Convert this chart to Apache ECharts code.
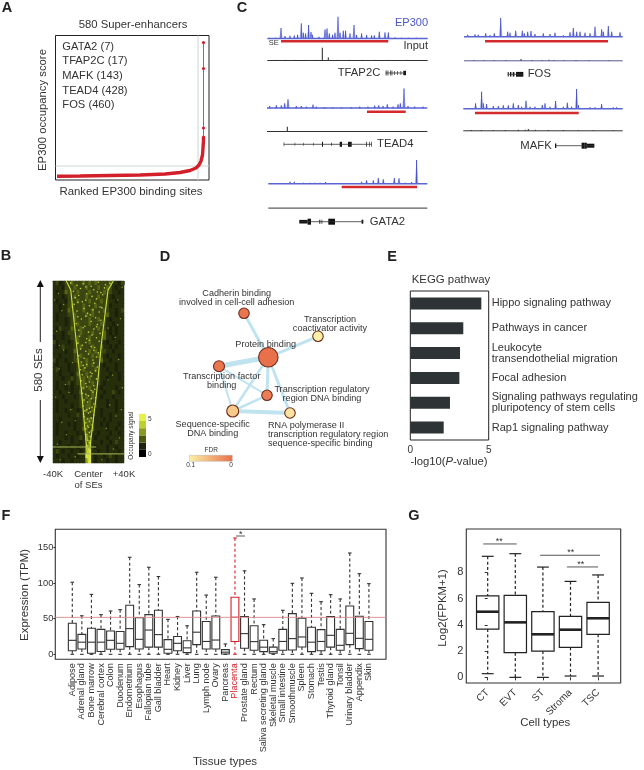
<!DOCTYPE html>
<html><head><meta charset="utf-8">
<style>html,body{margin:0;padding:0;background:#fff}#c{width:644px;height:770px}</style>
<script src="https://cdn.jsdelivr.net/npm/echarts@6/dist/echarts.min.js"></script>
</head><body><div id="c"></div>
<script>
// ---------- Panel A ----------
const rankCurve=[[123,0.7],[2009,1],[4469,1.5],[6929,2],[8979,3],[10209,4.5],[11029,6.5],[11521,9],[11767,12],[11931,16],[12054,22],[12095,29],[12136,37],[12136,40]];
const rankTop=[[12136,40],[12136,49],[12136,108.5],[12136,134.5]];
const superCut=11685, scoreCut=11;
const factorList=['GATA2 (7)','TFAP2C (17)','MAFK (143)','TEAD4 (428)','FOS (460)'];
// ---------- Panel B ----------
const heatRows=[
"1201 2232223232322223 1102","1110 2223222322232232 1011","1011 3222322232222322 1101",
"11101 22322232223222 10111","10110 22232223222322 11011","11011 23222322232222 01111",
"11011 32222322322232 11012","10111 22322232322223 11011","101101 232222322322 101111",
"111101 223222322232 110111","102111 322322222322 101011","111012 222322232223 101011",
"011011 223222322223 110111","2011101 2322232222 1011101","1012111 2232223223 1101011",
"1111011 3222232322 2110111","1101111 2232223232 1011101","2011011 2322322223 1101111",
"10111011 23232322 10111011","12011011 22322232 11011011","11011101 32232222 11101101",
"11101121 22323222 11011101","10111201 22322322 10111111","101101011 232322 101111011",
"110111011 322232 110112101","111011101 223232 101110111","101101111 232322 111011011",
"101111011 223322 111011011","1011011101 2323 1101111011","1111101121 3222 1101101111",
"1101111011 2333 1110101111","1011101011 2332 1101011101","1011111011 3323 1111011011",
"10110111011 33 11011101101","11110101121 43 10111011111","11011101101 34 11101101211",
"10111011011 44 10111011011","12101101101 45 11011011101","10111011011 55 10110121011","11101101111 45 10111011011"
].map(r=>r.replace(/ /g,''));
const edgeRanks=[0,29,188,347,506,580];
const edgeLeft=[-25,-20,-14,-8,-3,0];
const edgeRight=[28,22,15,9.5,2.7,0];
const streakA=[[-40,529],[8.7,529]];
const streakB=[[-12.4,551],[40,551]];
const brightSpecks=[[6,-20],[14,-13],[9,-6],[17,3],[4,11],[12,19],[7,24],[33,-17],[24,-9],[41,-2],[28,6],[37,14],[22,18],[53,-15],[46,-11],[61,-3],[49,4],[57,9],[44,16],[74,-16],[66,-7],[79,1],[71,7],[83,13],[96,-13],[88,-5],[103,-1],[92,5],[99,12],[85,15],[114,-12],[121,-8],[108,2],[117,8],[125,14],[136,-14],[144,-4],[129,3],[139,10],[157,-11],[149,-6],[163,0],[153,6],[167,13],[176,-10],[184,-2],[172,4],[181,9],[192,12],[198,-12],[205,-7],[189,1],[212,7],[217,-9],[224,-3],[209,3],[229,11],[238,-11],[246,-5],[233,0],[252,5],[242,9],[258,-8],[266,-2],[261,6],[274,10],[283,-9],[277,-4],[291,2],[286,8],[299,-7],[306,-1],[295,4],[312,9],[318,-8],[327,-3],[322,1],[334,6],[341,-6],[337,-2],[349,3],[345,7],[358,-7],[366,0],[354,5],[372,8],[379,-5],[386,-1],[375,3],[392,6],[398,-6],[406,1],[402,4],[414,-4],[421,0],[417,2],[427,6],[433,-5],[440,-1],[437,3],[452,-3],[447,1],[459,4],[471,-3],[466,0],[478,3],[489,-2],[483,1],[496,2],[508,-1],[515,1],[527,-1],[535,0],[541,1],[19,-3],[35,10],[68,-12],[112,-3],[146,9],[196,-3],[221,6],[269,-6],[303,3],[361,-3],[410,-2],[462,-1]];
const dimSpecks=[[40,-34],[95,-30],[60,33],[120,36],[160,-36],[180,30],[220,-28],[250,34],[280,-33],[300,27],[330,-26],[340,38],[370,-37],[395,24],[410,-20],[430,31],[450,-30],[470,20],[490,-25],[500,35],[520,-35],[535,28],[560,-15],[570,15],[570,-32],[410,37],[260,-18],[150,22],[60,-38],[20,38],[75,-28],[205,-33],[140,33],[355,-22],[315,22],[445,-15]];
// ---------- Panel C ----------
const ep_TFAP2C=[[2,0.8],[8,1],[13.7,10.7],[17.7,2.7],[22.7,3],[27,3.3],[30.3,4],[34,15.3],[36,6],[38.3,5.3],[41.3,13.7],[43.7,6.7],[45,4],[51.7,2],[57.7,9.3],[59.7,10.3],[62,5.3],[65.3,4],[67.7,6],[70.7,22],[72.7,6],[76,8],[78.3,8],[82.7,5.3],[86.7,13.7],[89.3,3.7],[94.3,5.3],[99.3,3.7],[104.3,3.3],[107,3.3],[112,7],[117.7,6.3],[121,6.3],[127.7,1.3],[134.3,1],[141,1],[149,1]];
const in_TFAP2C=[[55,13],[61,3.3],[8,0.8],[18,0.8],[28,0.8],[38,0.8],[48,0.8],[70,0.8],[82,0.8],[95,0.8],[108,0.8],[120,0.8],[140,0.8]];
const ep_FOS=[[3.7,2.3],[11,2.7],[14.3,2.3],[21.7,3.7],[26,2],[30.3,3.7],[36.7,19],[43.7,5.3],[46,4.3],[51.7,6.3],[58.3,6.3],[60.3,3.7],[63.7,5.3],[67,6],[71,3],[79.3,3.7],[86,3],[91,4.3],[99.3,1.7],[106,4.7],[109.3,9],[112.7,5.3],[116,5.3],[121,4.3],[126,3.7],[131,10.3],[137.7,7.7],[139.3,5.3],[144.3,11],[147.7,5.3],[156,4.7]];
const in_FOS=[[10,0.8],[20,0.8],[30,0.8],[42,0.8],[57,2],[68,1],[78,1],[85,1.2],[90,1],[100,0.8],[112,1],[125,0.8],[145,0.8]];
const ep_TEAD4=[[2.7,2.3],[9.3,3],[14.3,3],[17.7,5],[21,9],[29.3,2.3],[34.3,2.3],[39.3,1.7],[46,3.7],[49.3,1.7],[57.7,1.3],[66,1],[74.3,1],[84.3,1.3],[92.7,1.7],[101,1.7],[107.7,2.7],[111.7,3],[116,2.3],[120.3,4],[126,1.7],[131,4],[133.3,5],[137,20],[141,2.3],[147.7,1.7],[156,1.7]];
const in_TEAD4=[[20.3,5],[10,0.6],[35,0.6],[50,0.6],[70,0.6],[90,0.6],[110,0.6],[130,0.6],[150,0.6]];
const ep_MAFK=[[12.3,5.7],[18.3,17.3],[20,5.7],[23.3,5],[30,3],[35,3],[40,3.7],[45,3.7],[50,5.7],[55,4],[58.3,2.3],[62.7,8.3],[66.7,2.3],[71.7,2.3],[79,4],[81.7,5.7],[86.7,2.3],[92.3,8],[100,2.3],[104,6.3],[108.3,2.3],[113.3,20],[115,4],[126.7,1.7],[131.7,1.7],[138.3,5],[150,1.7],[153.3,1.7]];
const in_MAFK=[[8,1],[18,1],[30,1],[42,1],[55,1.2],[62,1.2],[65,2],[72,1.2],[85,1],[100,1],[115,0.8],[130,0.8],[150,0.8]];
const ep_GATA2=[[5,1],[13.3,1],[21.7,2.3],[26,2.3],[35,1.3],[41.7,1.3],[46.7,1.3],[51.7,1.3],[57.3,2],[66.7,1],[74,1],[81.7,1],[93.3,2.3],[98.3,3.7],[105,3.7],[110,6],[115,4.7],[126,6],[130.7,5.7],[136.7,1.3],[143.3,2],[148.3,24]];
const in_GATA2=[];
const se_TFAP2C=[13.7,121],se_FOS=[21,144],se_TEAD4=[100,138.7],se_MAFK=[11.7,115.4],se_GATA2=[73.4,148.7];
const exons_TFAP2C=[[118.4,119.2,2.5],[120.3,121,2.5],[122.7,123.3,2.5],[124.3,125,2.5],[127,127.6,2],[129.7,130.3,2],[133.3,133.9,2],[136,138.7,2.2]];
const exons_FOS=[[43.7,44.7,2.2],[46,47.4,2.2],[48.7,50.4,2.2],[52,59.3,2.4]];
const exons_TEAD4=[[16.7,17.2,2],[27.7,28.2,1.5],[36,36.5,1.5],[46,46.5,1.5],[55,56,2.5],[64.3,65,1.5],[72.7,75,2.5],[81,84,2.5],[84.3,85,2.5],[99.3,100,2.5],[102,102.6,2.5],[104.4,105,2.5]];
const exons_MAFK=[[91.7,93,2.2],[118.3,121,3],[121,123.5,3],[123.5,131,2]];
const exons_GATA2=[[31,39.3,1.8],[39.3,42.7,3],[51,52,2],[53.3,54,2],[60,66.7,3],[93.3,95,2]];
// ---------- Panel D ----------
const goTerms=['Protein binding','Cadherin binding','Transcription coactivator activity','Transcription factor binding','Transcription regulatory region DNA binding','Sequence-specific DNA binding','RNA polymerase II binding'];
const goPos=[[108.3,87.3],[84,43.3],[158,66.3],[59,96.3],[107,125.3],[72.7,141],[130,143]];
const goSize=[19.5,10.5,10.5,11,10.5,12,10.5];
const goFDR=[0,0.005,0.1,0.005,0.01,0.07,0.09];
const goEdges=[[0,1,3],[0,2,3],[0,3,5],[0,4,3],[0,5,2.5],[0,6,3],[3,4,2],[3,5,2],[5,4,2.5],[5,6,4]];
// ---------- Panel E ----------
const keggTerms=['Hippo signaling pathway','Pathways in cancer','Leukocyte\ntransendothelial migration','Focal adhesion','Signaling pathways regulating\npluripotency of stem cells','Rap1 signaling pathway'];
const keggValues=[4.53,3.38,3.17,3.13,2.53,2.13];
// ---------- Panel F ----------
const tissues=['Adipose','Adrenal gland','Bone marrow','Cerebral cortex','Colon','Duodenum','Endometrium','Esophagus','Fallopian tube','Gall bladder','Heart','Kidney','Liver','Lung','Lymph node','Ovary','Pancreas','Placenta','Prostate gland','Rectum','Saliva secreting gland','Skeletal muscle','Small intestine','Smoothmuscle','Spleen','Stomach','Testis','Thyroid gland','Tonsil','Urinary bladder','Appendix','Skin'];
const tissueHigh=[101,54,84,55.6,60.7,62.6,136,97.7,122,109,49,53,40,115,83,108,14.5,163,117,77.6,41.6,22,61.7,99.5,107,85.5,73.8,83.6,77.6,142,113,99];
const tissueQ3=[43.5,28,36.5,35,32.7,32,68.7,51.4,55.6,61.7,20.6,25,19,60.7,46,53.7,6.5,80,53,40,19.6,10,35,57,50.5,38,34.6,52.8,35,67.8,53.3,46];
const tissueMed=[19.6,17,17,17,19.6,15.4,36,21,34,27.6,7,15.4,9,31,18,20,3,52,29,17.8,10,3.7,18,22,24.3,17,18,26.6,12.6,29.4,22.4,21];
const tissueQ1=[5,7.5,1.4,4,7,7,10.7,7.5,10,10,1.4,5,2.3,13.5,7.5,7.5,0.5,18,8.4,5.6,3.7,1.4,5.6,6,10.3,3.7,5,10,5.6,13.5,8,5.6];
const tissueLow=tissues.map(()=>0);
const tpmRef=51.8;
// ---------- Panel G ----------
const cellTypes=['CT','EVT','ST','Stroma','TSC'];
const cellHigh=[9.22,9.42,8.4,7.31,7.8];
const cellQ3=[6.2,6.25,5,4.65,5.71];
const cellMed=[5,4.19,3.28,3.63,4.5];
const cellQ1=[3.68,1.88,2,2.29,3.28];
const cellLow=[0.28,0,0,0.1,0.1];
const sigBrackets=[[[-0.16,10.16],[1.05,10.16]],[[1.9,9.3],[4.07,9.3]],[[2.87,8.41],[4,8.41]]];

// ---------- helpers ----------
const FONT='"Liberation Sans",Arial,sans-serif', INK='#333';
const grid=[],xAxis=[],yAxis=[],series=[],graphic=[];
function addGrid(left,top,width,height,xa,ya,extra){
  const i=grid.length;
  grid.push(Object.assign({left,top,width,height,outerBoundsMode:'none',show:false},extra||{}));
  xAxis.push(Object.assign({gridIndex:i,show:false,type:'value'},xa));
  yAxis.push(Object.assign({gridIndex:i,show:false,type:'value'},ya));
  return i;
}
function txt(x,y,text,size,o){
  o=o||{};
  graphic.push({type:'text',x,y,rotation:o.rot||0,z:30,silent:true,style:{text,fontSize:size,fontFamily:FONT,fontWeight:o.bold?'bold':'normal',fill:o.color||INK,align:o.align||'center',verticalAlign:'middle',lineHeight:o.lh,rich:o.rich}});
}
const R90=Math.PI/2;
// ---------- A ----------
(function(){
  const g=addGrid(55.5,35.5,153.5,144.5,{min:0,max:12587},{min:-3,max:141.5},{show:true,borderColor:'#222',borderWidth:1});
  const red='#d21f2a';
  series.push({type:'line',xAxisIndex:g,yAxisIndex:g,symbol:'none',silent:true,data:[[superCut,-3],[superCut,141.5]],lineStyle:{color:'#c8d6d4',width:1}});
  series.push({type:'line',xAxisIndex:g,yAxisIndex:g,symbol:'none',silent:true,data:[[0,scoreCut],[12587,scoreCut]],lineStyle:{color:'#c8d6d4',width:1}});
  series.push({type:'line',xAxisIndex:g,yAxisIndex:g,symbol:'none',smooth:false,data:rankCurve,lineStyle:{color:red,width:3.4}});
  series.push({type:'line',xAxisIndex:g,yAxisIndex:g,symbol:'circle',symbolSize:3.2,data:rankTop,lineStyle:{color:red,width:0.8},itemStyle:{color:red}});
  txt(133,25,'580 Super-enhancers',11.3);
  factorList.forEach((t,i)=>txt(62.3,46.7+i*14.65,t,11.2,{align:'left'}));
  txt(43.3,110,'EP300 occupancy score',11.3,{rot:R90});
  txt(131,191.7,'Ranked EP300 binding sites',11.4);
})();
// ---------- B ----------
const heatColors=['#1b2009','#272e0c','#3c4611','#566416','#8fa226','#dde948'];
const keyColors=['#000000','#1e220c','#4c5810','#8a9a20','#bcd030','#e8f04a'];
(function(){
  const l=53,t=281,w=71,h=182;
  const cols=[...Array(24).keys()].map(String), rows=heatRows.map((_,i)=>String(i));
  const g=addGrid(l,t,w,h,{type:'category',data:cols},{type:'category',data:rows,inverse:true},{show:true,backgroundColor:'#272e0c',borderWidth:0});
  const data=[];
  heatRows.forEach((r,y)=>[...r].forEach((c,x)=>data.push([x,y,+c])));
  series.push({type:'heatmap',xAxisIndex:g,yAxisIndex:g,data,silent:true,itemStyle:{borderWidth:0}});
  const v=addGrid(l,t,w,h,{show:true,min:-40,max:40,interval:40,position:'bottom',offset:2,
      axisLine:{show:true,lineStyle:{color:'#666',width:1}},axisTick:{show:true,length:4,lineStyle:{color:'#666'}},splitLine:{show:false},
      axisLabel:{show:true,fontSize:9.5,fontFamily:FONT,color:INK,margin:4,lineHeight:11,showMinLabel:true,showMaxLabel:true,hideOverlap:false,formatter:x=>x<0?'-40K':x>0?'+40K':'Center\nof SEs'}},
    {min:0,max:580,inverse:true});
  series.push({type:'scatter',xAxisIndex:v,yAxisIndex:v,silent:true,symbolSize:1.6,data:brightSpecks.map(p=>[p[1],p[0]]),itemStyle:{color:'#dce84a',opacity:0.85}});
  series.push({type:'scatter',xAxisIndex:v,yAxisIndex:v,silent:true,symbolSize:1.4,data:dimSpecks.map(p=>[p[1],p[0]]),itemStyle:{color:'#a8b838',opacity:0.8}});
  const edge='#cfe03c';
  series.push({type:'line',xAxisIndex:v,yAxisIndex:v,symbol:'none',silent:true,data:edgeLeft.map((k,i)=>[k,edgeRanks[i]]),lineStyle:{color:edge,width:1.1}});
  series.push({type:'line',xAxisIndex:v,yAxisIndex:v,symbol:'none',silent:true,data:edgeRight.map((k,i)=>[k,edgeRanks[i]]),lineStyle:{color:edge,width:1.1}});
  series.push({type:'line',xAxisIndex:v,yAxisIndex:v,symbol:'none',silent:true,data:streakA,lineStyle:{color:'#a9b856',width:1}});
  series.push({type:'line',xAxisIndex:v,yAxisIndex:v,symbol:'none',silent:true,data:streakB,lineStyle:{color:'#a9b856',width:1}});
  const ax=40.3;
  graphic.push({type:'line',silent:true,shape:{x1:ax,y1:282,x2:ax,y2:342},style:{stroke:'#222',lineWidth:1}});
  graphic.push({type:'line',silent:true,shape:{x1:ax,y1:400,x2:ax,y2:461},style:{stroke:'#222',lineWidth:1}});
  graphic.push({type:'polygon',silent:true,shape:{points:[[ax,280],[ax-3.5,287],[ax+3.5,287]]},style:{fill:'#111'}});
  graphic.push({type:'polygon',silent:true,shape:{points:[[ax,463],[ax-3.5,456],[ax+3.5,456]]},style:{fill:'#111'}});
  txt(39.3,370,'580 SEs',11.5,{rot:R90});
  const keyH=7.2;
  keyColors.forEach((c,i)=>graphic.push({type:'rect',silent:true,shape:{x:139,y:457-keyH*(i+1),width:7,height:keyH},style:{fill:c}}));
  txt(148,419,'5',6.5,{align:'left'}); txt(148,454,'0',6.5,{align:'left'});
  txt(131,435.7,'Occupany signal',6.5,{rot:R90});
})();
// ---------- C ----------
const blocks=[
 {name:'TFAP2C',ep:ep_TFAP2C,inp:in_TFAP2C,se:se_TFAP2C,ex:exons_TFAP2C,l:267.3,w:160.4,epY:38.7,seO:2.6,inY:60.7,gY:73,lab:[359,'center']},
 {name:'FOS',ep:ep_FOS,inp:in_FOS,se:se_FOS,ex:exons_FOS,l:464,w:158.7,epY:37,seO:4.3,inY:61,gY:74.3,lab:[527.7,'left']},
 {name:'TEAD4',ep:ep_TEAD4,inp:in_TEAD4,se:se_TEAD4,ex:exons_TEAD4,l:267,w:160.4,epY:108.3,seO:3.4,inY:131.7,gY:144.3,lab:[377,'left']},
 {name:'MAFK',ep:ep_MAFK,inp:in_MAFK,se:se_MAFK,ex:exons_MAFK,l:463.3,w:159.4,epY:109,seO:4,inY:131,gY:145.7,lab:[551.7,'right']},
 {name:'GATA2',ep:ep_GATA2,inp:in_GATA2,se:se_GATA2,ex:exons_GATA2,l:268.3,w:159,epY:184,seO:3,inY:208.3,gY:221.7,lab:[369.7,'left']}
];
function peakSeries(g,data,core,halo){
  series.push({type:'custom',xAxisIndex:g,yAxisIndex:g,silent:true,clip:false,data,encode:{x:0,y:1},
    renderItem:(p,api)=>{
      const t=api.coord([api.value(0),api.value(1)]),b=api.coord([api.value(0),0]);
      return {type:'group',children:[
        {type:'polygon',shape:{points:[[t[0]-1.8,b[1]],[t[0],t[1]],[t[0]+1.8,b[1]]]},style:{fill:halo}},
        {type:'line',shape:{x1:t[0],y1:t[1],x2:b[0],y2:b[1]},style:{stroke:core,lineWidth:1}}
      ]};
    }});
}
blocks.forEach(b=>{
  const g1=addGrid(b.l,b.epY-26,b.w,33,{min:0,max:b.w},{min:-7,max:26});
  peakSeries(g1,b.ep,'#3f4cc6','#aab0ea');
  series.push({type:'line',xAxisIndex:g1,yAxisIndex:g1,symbol:'none',silent:true,data:[[0,0.3],[b.w,0.3]],lineStyle:{color:'#5a65d4',width:1.5}});
  series.push({type:'custom',xAxisIndex:g1,yAxisIndex:g1,silent:true,clip:false,data:[[b.se[0],b.se[1],-b.seO]],encode:{x:[0,1],y:2},
    renderItem:(p,api)=>{const a=api.coord([api.value(0),api.value(2)]),e=api.coord([api.value(1),api.value(2)]);
      return {type:'rect',shape:{x:a[0],y:a[1]-1.2,width:e[0]-a[0],height:2.4},style:{fill:'#d42a2e'}};}});
  const g2=addGrid(b.l,b.inY-15,b.w,17,{min:0,max:b.w},{min:-2,max:15});
  if(b.inp.length) peakSeries(g2,b.inp,'#222','rgba(90,90,90,0)');
  series.push({type:'line',xAxisIndex:g2,yAxisIndex:g2,symbol:'none',silent:true,data:[[0,0.2],[b.w,0.2]],lineStyle:{color:b.name==='FOS'?'#555a90':'#333',width:1}});
  const g3=addGrid(b.l,b.gY-5,b.w,10,{min:0,max:b.w},{min:-5,max:5});
  const first=b.ex[0][0], last=b.ex[b.ex.length-1][1];
  series.push({type:'line',xAxisIndex:g3,yAxisIndex:g3,symbol:'none',silent:true,data:[[first,0],[last,0]],lineStyle:{color:'#333',width:0.8}});
  series.push({type:'custom',xAxisIndex:g3,yAxisIndex:g3,silent:true,clip:false,data:b.ex,encode:{x:[0,1],y:2},
    renderItem:(p,api)=>{const a=api.coord([api.value(0),api.value(2)]),e=api.coord([api.value(1),-api.value(2)]);
      return {type:'rect',shape:{x:a[0],y:a[1],width:e[0]-a[0],height:e[1]-a[1]},style:{fill:'#111'}};}});
  txt(b.lab[0],b.gY,b.name,11.3,{align:b.lab[1]});
});
txt(428,23,'EP300',11,{align:'right',color:'#4a55c8'});
txt(268.7,43,'SE',7.5,{align:'left'});
txt(428,45.7,'Input',11,{align:'right'});
// ---------- D ----------
(function(){
  const g=addGrid(160,270,240,220,{min:0,max:240},{min:0,max:220,inverse:true});
  const lo=[232,112,74], hi=[253,241,168];
  const col=f=>{const t=f/0.1;return 'rgb('+lo.map((c,i)=>Math.round(c+(hi[i]-c)*t)).join(',')+')';};
  series.push({type:'graph',coordinateSystem:'cartesian2d',xAxisIndex:g,yAxisIndex:g,layout:'none',silent:true,z:5,
    data:goTerms.map((n,i)=>({name:n,value:goPos[i],symbolSize:goSize[i],itemStyle:{color:col(goFDR[i]),borderColor:'#6e2a1c',borderWidth:1.1}})),
    links:goEdges.map(e=>({source:e[0],target:e[1],lineStyle:{width:e[2],color:'#bfe4ef',opacity:1}})),label:{show:false}});
  const s=9.1,lh=8.9;
  txt(236.7,298,'Cadherin binding\ninvolved in cell-cell adhesion',s,{lh});
  txt(330,323.7,'Transcription\ncoactivator activity',s,{lh});
  txt(265.7,344,'Protein binding',s);
  txt(221.7,381,'Transcription factor\nbinding',s,{lh});
  txt(322,394.3,'Transcription regulatory\nregion DNA binding',s,{lh});
  txt(212.7,429,'Sequence-specific\nDNA binding',s,{lh});
  txt(268,434.3,'RNA polymerase II\ntranscription regulatory region\nsequence-specific binding',s,{lh:9.3,align:'left'});
  graphic.push({type:'rect',silent:true,shape:{x:189.3,y:455.3,width:43,height:6},style:{stroke:'#aaa',lineWidth:0.4,fill:new echarts.graphic.LinearGradient(0,0,1,0,[{offset:0,color:'#fdf1a8'},{offset:1,color:'#e8704a'}])}});
  txt(211.3,450,'FDR',6.5); txt(190.7,465.5,'0.1',6.5); txt(231,465.5,'0',6.5);
})();
// ---------- E ----------
(function(){
  const g=addGrid(410.3,291,78.4,149,
    {show:true,min:0,max:5,interval:5,axisLine:{show:false},axisTick:{show:false},splitLine:{show:false},axisLabel:{show:true,fontSize:10,fontFamily:FONT,color:INK,margin:5}},
    {show:true,type:'category',data:keggTerms,inverse:true,position:'right',axisLine:{show:false},axisTick:{show:false},axisLabel:{show:true,interval:0,fontSize:11,fontFamily:FONT,color:INK,margin:3,lineHeight:10.8,align:'left'}},
    {show:true,borderColor:'#222',borderWidth:1});
  series.push({type:'bar',xAxisIndex:g,yAxisIndex:g,barWidth:12,silent:true,data:keggValues,itemStyle:{color:'#2e3436'}});
  txt(451,280,'KEGG pathway',11.4);
  txt(449,462,'{a|-log10(}{i|P}{a|-value)}',11.3,{rich:{a:{fontSize:11.3,fontFamily:FONT,fill:INK},i:{fontSize:11.3,fontFamily:FONT,fontStyle:'italic',fill:INK}}});
})();
// ---------- box series ----------
function boxSeries(g,rows,o){
  series.push({type:'custom',xAxisIndex:g,yAxisIndex:g,silent:true,z:4,data:rows,encode:{x:0,y:[1,2,3,4,5]},
    renderItem:(p,api)=>{
      const i=api.value(0),x=api.coord([i,0])[0],band=api.size([1,0])[0],bw=band*o.box,cw=band*o.cap;
      const y=k=>api.coord([i,api.value(k)])[1];
      const c=o.color(i),ln=(x1,y1,x2,y2,w,d)=>({type:'line',shape:{x1,y1,x2,y2},style:{stroke:c,lineWidth:w,lineDash:d||null}});
      return {type:'group',children:[
        ln(x,y(1),x,y(2),o.lw,[3,2.4]),ln(x,y(4),x,y(5),o.lw,[3,2.4]),
        ln(x-cw/2,y(1),x+cw/2,y(1),o.lw),ln(x-cw/2,y(5),x+cw/2,y(5),o.lw),
        {type:'rect',shape:{x:x-bw/2,y:y(2),width:bw,height:y(4)-y(2)},style:{fill:'#fff',fillOpacity:0,stroke:c,lineWidth:o.lw}},
        ln(x-bw/2,y(3),x+bw/2,y(3),o.med)
      ]};
    }});
}
// ---------- F ----------
(function(){
  const fy={min:-7,max:175.2};
  const f=addGrid(55.3,529.3,330.7,130,{min:0,max:1},
    {show:true,...fy,axisLine:{show:false},splitLine:{show:false},axisTick:{show:true,length:2,customValues:[0,50,100,150],lineStyle:{color:'#333'}},axisLabel:{show:true,customValues:[0,50,100,150],fontSize:9.3,fontFamily:FONT,color:INK,margin:2}},
    {show:true,borderColor:'#333',borderWidth:1.1});
  series.push({type:'line',xAxisIndex:f,yAxisIndex:f,symbol:'none',silent:true,data:[[0,tpmRef],[1,tpmRef]],lineStyle:{color:'#d98a8a',width:0.9},z:6});
  const redI=tissues.indexOf('Placenta');
  const g=addGrid(67.5,529.3,306.2,130,
    {show:true,type:'category',data:tissues,axisLine:{show:false},axisTick:{show:false},axisLabel:{show:true,interval:0,rotate:90,margin:4,fontSize:9.1,fontFamily:FONT,color:(v,i)=>i===redI?'#d8222a':INK}},
    {...fy});
  boxSeries(g,tissues.map((_,i)=>[i,tissueHigh[i],tissueQ3[i],tissueMed[i],tissueQ1[i],tissueLow[i]]),{box:0.82,cap:0.38,lw:1.1,med:1.1,color:i=>i===redI?'#d8222a':'#333'});
  txt(25,595,'Expression (TPM)',11.5,{rot:R90});
  txt(225,762,'Tissue types',11.5);
  txt(240.7,534.5,'*',9);
  graphic.push({type:'line',silent:true,shape:{x1:236,y1:536,x2:245,y2:536},style:{stroke:'#333',lineWidth:0.8}});
})();
// ---------- G ----------
(function(){
  const gy={min:-0.43,max:11.3};
  const f=addGrid(466.3,529,154.4,154,{min:-0.775,max:4.82},
    {show:true,...gy,axisLine:{show:false},splitLine:{show:false},axisTick:{show:true,length:3,customValues:[0,2,4,6,8],lineStyle:{color:'#333'}},axisLabel:{show:true,customValues:[0,2,4,6,8],fontSize:11,fontFamily:FONT,color:INK,margin:3}},
    {show:true,borderColor:'#333',borderWidth:1.1});
  sigBrackets.forEach(b=>series.push({type:'line',xAxisIndex:f,yAxisIndex:f,symbol:'none',silent:true,data:b,lineStyle:{color:'#444',width:0.9}}));
  const g=addGrid(473.9,529,138,154,
    {show:true,type:'category',data:cellTypes,axisLine:{show:false},axisTick:{show:true,length:3,alignWithLabel:true,lineStyle:{color:'#333'}},axisLabel:{show:true,interval:0,rotate:45,margin:8,fontSize:10,fontFamily:FONT,color:INK}},
    {...gy});
  boxSeries(g,cellTypes.map((_,i)=>[i,cellHigh[i],cellQ3[i],cellMed[i],cellQ1[i],cellLow[i]]),{box:0.81,cap:0.43,lw:1.2,med:2.6,color:()=>'#222'});
  txt(442.7,608,'Log2(FPKM+1)',11.4,{rot:R90});
  txt(545.3,722.7,'Cell types',11.4);
  txt(499.3,542,'**',9); txt(570.7,552.5,'**',9); txt(580.7,564.5,'**',9);
})();
// ---------- panel letters ----------
[['A',7,8],['C',242,8],['B',6,256],['D',165,257],['E',392,257],['F',6,516],['G',414,516]].forEach(a=>txt(a[1],a[2],a[0],14.5,{bold:true,color:'#222'}));

const chart=echarts.init(document.getElementById('c'));
chart.setOption({animation:false,backgroundColor:'#fff',grid,xAxis,yAxis,series,graphic:{elements:graphic},
  visualMap:{show:false,type:'piecewise',seriesIndex:series.findIndex(s=>s.type==='heatmap'),dimension:2,min:0,max:5,
    pieces:heatColors.map((c,i)=>({value:i,color:c}))}});
</script></body></html>
